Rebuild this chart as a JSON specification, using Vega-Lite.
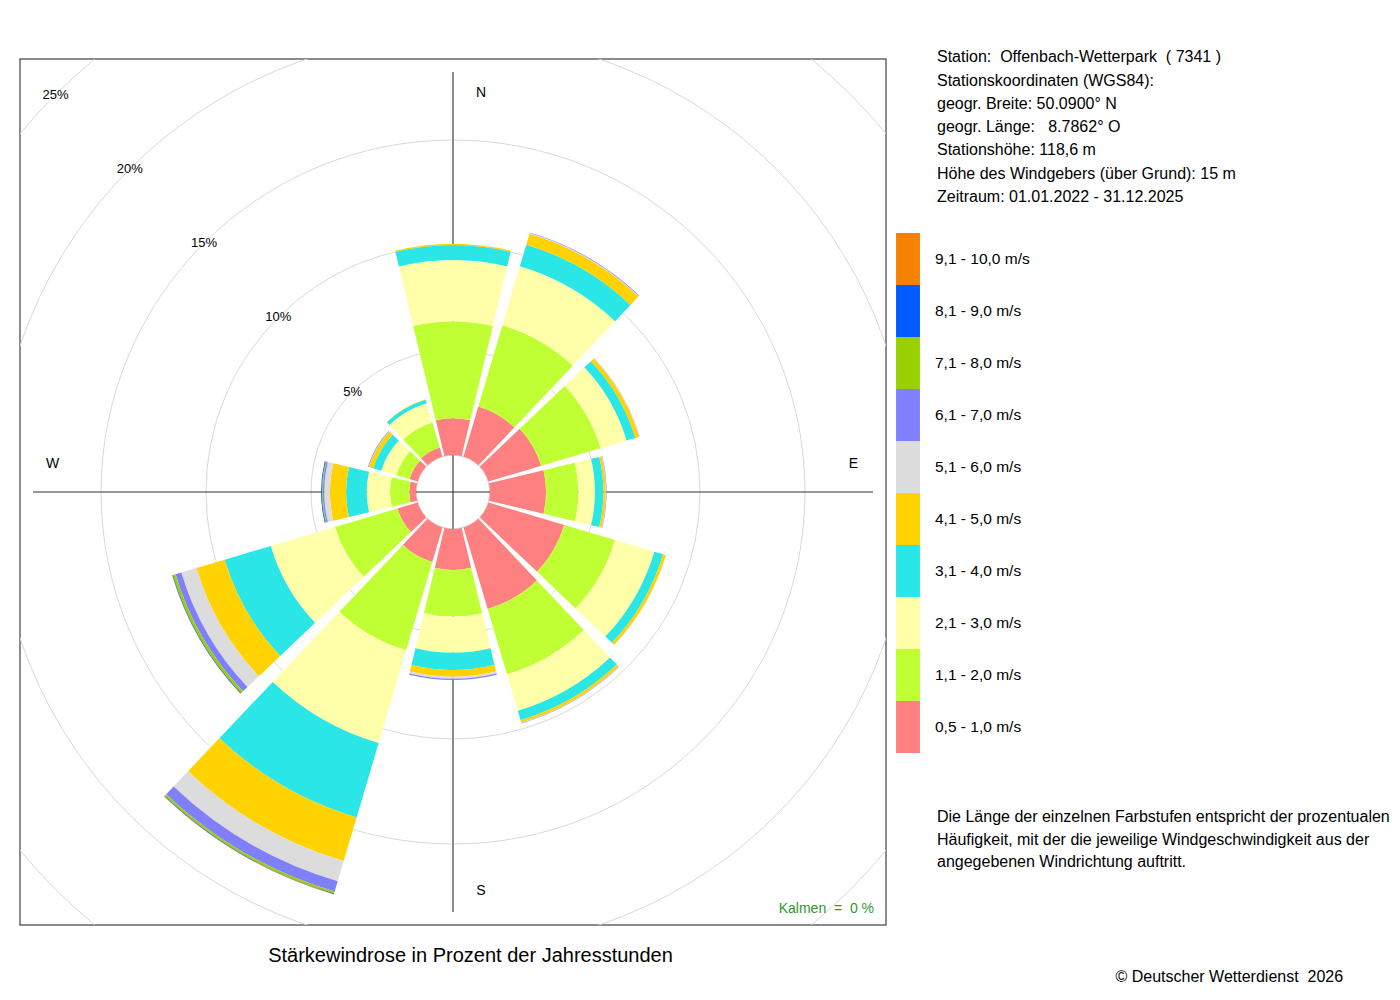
{
  "$schema": "https://vega.github.io/schema/vega-lite/v6.json",
  "width": 866,
  "height": 866,
  "autosize": {"type": "none"},
  "padding": {"left": 20, "top": 59, "right": 514, "bottom": 75},
  "background": "white",
  "config": {
    "font": "Liberation Sans",
    "view": {"stroke": "#666666", "strokeWidth": 1.5}
  },
  "title": {
    "text": [
      "Station:\u00a0 Offenbach-Wetterpark\u00a0 ( 7341 )",
      "Stationskoordinaten (WGS84):",
      "geogr. Breite: 50.0900° N",
      "geogr. Länge:\u00a0 \u00a08.7862° O",
      "Stationshöhe: 118,6 m",
      "Höhe des Windgebers (über Grund): 15 m",
      "Zeitraum: 01.01.2022 - 31.12.2025"
    ],
    "subtitle": [
      "Die Länge der einzelnen Farbstufen entspricht der prozentualen",
      "Häufigkeit, mit der die jeweilige Windgeschwindigkeit aus der",
      "angegebenen Windrichtung auftritt."
    ],
    "orient": "top",
    "anchor": "start",
    "frame": "group",
    "align": "left",
    "baseline": "top",
    "dx": 917,
    "offset": -811.5,
    "font": "Liberation Sans",
    "fontSize": 16,
    "fontWeight": "normal",
    "color": "black",
    "lineHeight": 23.3,
    "subtitleFont": "Liberation Sans",
    "subtitleFontSize": 16,
    "subtitleColor": "black",
    "subtitleLineHeight": 22.7,
    "subtitlePadding": 604
  },
  "data": {"values": [{}]},
  "layer": [
    {
      "data": {"values": [{"ring": 5}, {"ring": 10}, {"ring": 15}, {"ring": 20}, {"ring": 25}]},
      "mark": {"type": "arc", "filled": false, "stroke": "#d9d9d9", "strokeWidth": 1, "theta": 0, "theta2": 6.2832, "clip": true},
      "encoding": {
        "radius": {"field": "ring", "type": "quantitative", "stack": null, "scale": {"type": "linear", "domain": [0, 25], "range": [37, 562], "zero": false, "nice": false}}
      }
    },
    {
      "mark": {"type": "rule", "color": "#8c8c8c", "strokeWidth": 2},
      "encoding": {
        "x": {
          "datum": 0, "type": "quantitative",
          "scale": {"domain": [-20.619, 20.619], "nice": false, "zero": false},
          "axis": {
            "title": "Stärkewindrose in Prozent der Jahresstunden",
            "labels": false, "ticks": false, "domain": false, "grid": false,
            "titleFont": "Liberation Sans", "titleFontSize": 20, "titleFontWeight": "normal", "titleColor": "black",
            "titleX": 450, "titleY": 36, "titleAlign": "center", "titleBaseline": "alphabetic"
          }
        },
        "y": {
          "datum": -20, "type": "quantitative",
          "scale": {"domain": [-20.619, 20.619], "nice": false, "zero": false},
          "axis": {
            "title": "© Deutscher Wetterdienst\u00a0 2026",
            "labels": false, "ticks": false, "domain": false, "grid": false,
            "titleFont": "Liberation Sans", "titleFontSize": 16, "titleFontWeight": "normal", "titleColor": "black",
            "titleAngle": 0, "titleX": 1095, "titleY": 922, "titleAlign": "left", "titleBaseline": "alphabetic"
          }
        },
        "y2": {"datum": 20}
      }
    },
    {
      "mark": {"type": "rule", "color": "#333333", "strokeWidth": 1.2},
      "encoding": {
        "y": {"datum": 0, "type": "quantitative"},
        "x": {"datum": -20, "type": "quantitative"},
        "x2": {"datum": 20}
      }
    },
    {
      "data": {
        "values": [
          {"dir": 0, "speed": "0,5 - 1,0 m/s", "pct": 1.75},
          {"dir": 0, "speed": "1,1 - 2,0 m/s", "pct": 4.62},
          {"dir": 0, "speed": "2,1 - 3,0 m/s", "pct": 2.91},
          {"dir": 0, "speed": "3,1 - 4,0 m/s", "pct": 0.72},
          {"dir": 0, "speed": "4,1 - 5,0 m/s", "pct": 0.05},
          {"dir": 30, "speed": "0,5 - 1,0 m/s", "pct": 2.48},
          {"dir": 30, "speed": "1,1 - 2,0 m/s", "pct": 4.04},
          {"dir": 30, "speed": "2,1 - 3,0 m/s", "pct": 2.93},
          {"dir": 30, "speed": "3,1 - 4,0 m/s", "pct": 1.07},
          {"dir": 30, "speed": "4,1 - 5,0 m/s", "pct": 0.55},
          {"dir": 30, "speed": "5,1 - 6,0 m/s", "pct": 0.03},
          {"dir": 30, "speed": "6,1 - 7,0 m/s", "pct": 0.03},
          {"dir": 60, "speed": "0,5 - 1,0 m/s", "pct": 2.62},
          {"dir": 60, "speed": "1,1 - 2,0 m/s", "pct": 2.95},
          {"dir": 60, "speed": "2,1 - 3,0 m/s", "pct": 1.29},
          {"dir": 60, "speed": "3,1 - 4,0 m/s", "pct": 0.43},
          {"dir": 60, "speed": "4,1 - 5,0 m/s", "pct": 0.19},
          {"dir": 60, "speed": "5,1 - 6,0 m/s", "pct": 0.02},
          {"dir": 60, "speed": "6,1 - 7,0 m/s", "pct": 0.01},
          {"dir": 90, "speed": "0,5 - 1,0 m/s", "pct": 2.67},
          {"dir": 90, "speed": "1,1 - 2,0 m/s", "pct": 1.54},
          {"dir": 90, "speed": "2,1 - 3,0 m/s", "pct": 0.79},
          {"dir": 90, "speed": "3,1 - 4,0 m/s", "pct": 0.40},
          {"dir": 90, "speed": "4,1 - 5,0 m/s", "pct": 0.11},
          {"dir": 90, "speed": "5,1 - 6,0 m/s", "pct": 0.02},
          {"dir": 90, "speed": "6,1 - 7,0 m/s", "pct": 0.02},
          {"dir": 120, "speed": "0,5 - 1,0 m/s", "pct": 3.76},
          {"dir": 120, "speed": "1,1 - 2,0 m/s", "pct": 2.53},
          {"dir": 120, "speed": "2,1 - 3,0 m/s", "pct": 1.95},
          {"dir": 120, "speed": "3,1 - 4,0 m/s", "pct": 0.43},
          {"dir": 120, "speed": "4,1 - 5,0 m/s", "pct": 0.14},
          {"dir": 120, "speed": "5,1 - 6,0 m/s", "pct": 0.02},
          {"dir": 150, "speed": "0,5 - 1,0 m/s", "pct": 4.05},
          {"dir": 150, "speed": "1,1 - 2,0 m/s", "pct": 3.24},
          {"dir": 150, "speed": "2,1 - 3,0 m/s", "pct": 1.81},
          {"dir": 150, "speed": "3,1 - 4,0 m/s", "pct": 0.47},
          {"dir": 150, "speed": "4,1 - 5,0 m/s", "pct": 0.12},
          {"dir": 150, "speed": "5,1 - 6,0 m/s", "pct": 0.02},
          {"dir": 150, "speed": "6,1 - 7,0 m/s", "pct": 0.02},
          {"dir": 180, "speed": "0,5 - 1,0 m/s", "pct": 1.95},
          {"dir": 180, "speed": "1,1 - 2,0 m/s", "pct": 2.22},
          {"dir": 180, "speed": "2,1 - 3,0 m/s", "pct": 1.72},
          {"dir": 180, "speed": "3,1 - 4,0 m/s", "pct": 0.82},
          {"dir": 180, "speed": "4,1 - 5,0 m/s", "pct": 0.32},
          {"dir": 180, "speed": "5,1 - 6,0 m/s", "pct": 0.10},
          {"dir": 180, "speed": "6,1 - 7,0 m/s", "pct": 0.06},
          {"dir": 210, "speed": "0,5 - 1,0 m/s", "pct": 1.71},
          {"dir": 210, "speed": "1,1 - 2,0 m/s", "pct": 4.39},
          {"dir": 210, "speed": "2,1 - 3,0 m/s", "pct": 4.61},
          {"dir": 210, "speed": "3,1 - 4,0 m/s", "pct": 3.69},
          {"dir": 210, "speed": "4,1 - 5,0 m/s", "pct": 2.17},
          {"dir": 210, "speed": "5,1 - 6,0 m/s", "pct": 1.00},
          {"dir": 210, "speed": "6,1 - 7,0 m/s", "pct": 0.51},
          {"dir": 210, "speed": "7,1 - 8,0 m/s", "pct": 0.10},
          {"dir": 210, "speed": "8,1 - 9,0 m/s", "pct": 0.03},
          {"dir": 210, "speed": "9,1 - 10,0 m/s", "pct": 0.02},
          {"dir": 240, "speed": "0,5 - 1,0 m/s", "pct": 1.00},
          {"dir": 240, "speed": "1,1 - 2,0 m/s", "pct": 3.10},
          {"dir": 240, "speed": "2,1 - 3,0 m/s", "pct": 3.19},
          {"dir": 240, "speed": "3,1 - 4,0 m/s", "pct": 2.29},
          {"dir": 240, "speed": "4,1 - 5,0 m/s", "pct": 1.40},
          {"dir": 240, "speed": "5,1 - 6,0 m/s", "pct": 0.75},
          {"dir": 240, "speed": "6,1 - 7,0 m/s", "pct": 0.29},
          {"dir": 240, "speed": "7,1 - 8,0 m/s", "pct": 0.13},
          {"dir": 240, "speed": "8,1 - 9,0 m/s", "pct": 0.03},
          {"dir": 240, "speed": "9,1 - 10,0 m/s", "pct": 0.01},
          {"dir": 270, "speed": "0,5 - 1,0 m/s", "pct": 0.32},
          {"dir": 270, "speed": "1,1 - 2,0 m/s", "pct": 0.92},
          {"dir": 270, "speed": "2,1 - 3,0 m/s", "pct": 1.11},
          {"dir": 270, "speed": "3,1 - 4,0 m/s", "pct": 0.98},
          {"dir": 270, "speed": "4,1 - 5,0 m/s", "pct": 0.77},
          {"dir": 270, "speed": "5,1 - 6,0 m/s", "pct": 0.27},
          {"dir": 270, "speed": "6,1 - 7,0 m/s", "pct": 0.07},
          {"dir": 270, "speed": "7,1 - 8,0 m/s", "pct": 0.04},
          {"dir": 270, "speed": "8,1 - 9,0 m/s", "pct": 0.04},
          {"dir": 300, "speed": "0,5 - 1,0 m/s", "pct": 0.40},
          {"dir": 300, "speed": "1,1 - 2,0 m/s", "pct": 0.66},
          {"dir": 300, "speed": "2,1 - 3,0 m/s", "pct": 0.74},
          {"dir": 300, "speed": "3,1 - 4,0 m/s", "pct": 0.40},
          {"dir": 300, "speed": "4,1 - 5,0 m/s", "pct": 0.21},
          {"dir": 300, "speed": "5,1 - 6,0 m/s", "pct": 0.02},
          {"dir": 300, "speed": "6,1 - 7,0 m/s", "pct": 0.03},
          {"dir": 330, "speed": "0,5 - 1,0 m/s", "pct": 0.45},
          {"dir": 330, "speed": "1,1 - 2,0 m/s", "pct": 1.24},
          {"dir": 330, "speed": "2,1 - 3,0 m/s", "pct": 0.95},
          {"dir": 330, "speed": "3,1 - 4,0 m/s", "pct": 0.18},
          {"dir": 330, "speed": "4,1 - 5,0 m/s", "pct": 0.02}
        ]
      },
      "transform": [
        {"stack": "pct", "groupby": ["dir"], "sort": [{"field": "speed", "order": "ascending"}], "as": ["p0", "p1"]}
      ],
      "mark": {"type": "arc", "thetaOffset": -0.2356, "theta2Offset": 0.2356, "strokeWidth": 0},
      "encoding": {
        "theta": {"field": "dir", "type": "quantitative", "stack": null, "scale": {"domain": [0, 360], "range": [0, 6.283185307179586], "zero": false, "nice": false}},
        "theta2": {"field": "dir"},
        "radius": {"field": "p1", "type": "quantitative", "stack": null, "scale": {"type": "linear", "domain": [0, 25], "range": [37, 562], "zero": false, "nice": false}},
        "radius2": {"field": "p0"},
        "color": {
          "field": "speed", "type": "nominal",
          "scale": {
            "domain": ["9,1 - 10,0 m/s", "8,1 - 9,0 m/s", "7,1 - 8,0 m/s", "6,1 - 7,0 m/s", "5,1 - 6,0 m/s", "4,1 - 5,0 m/s", "3,1 - 4,0 m/s", "2,1 - 3,0 m/s", "1,1 - 2,0 m/s", "0,5 - 1,0 m/s"],
            "range": ["#F58200", "#005CFF", "#99D100", "#8080FF", "#DCDCDC", "#FFD200", "#2AE6E6", "#FFFFAA", "#C0FF33", "#FF8080"]
          },
          "legend": {
            "orient": "none", "legendX": 862, "legendY": 174,
            "title": null, "padding": 0, "rowPadding": 0,
            "symbolType": "M-0.46,-1H0.46V1H-0.46Z", "symbolSize": 2704, "symbolStrokeWidth": 0, "symbolOpacity": 1,
            "labelFont": "Liberation Sans", "labelFontSize": 15.5, "labelColor": "black", "labelOffset": 1, "labelLimit": 300
          }
        }
      }
    },
    {
      "data": {"values": [{"ring": 5, "label": "5%"}, {"ring": 10, "label": "10%"}, {"ring": 15, "label": "15%"}, {"ring": 20, "label": "20%"}, {"ring": 25, "label": "25%"}]},
      "mark": {"type": "text", "fontSize": 13, "color": "black", "align": "center", "baseline": "middle"},
      "encoding": {
        "theta": {"datum": 315, "type": "quantitative"},
        "radius": {"field": "ring", "type": "quantitative", "stack": null},
        "text": {"field": "label"}
      }
    },
    {
      "data": {"values": [{"label": "N", "dir": 0}, {"label": "S", "dir": 180}]},
      "mark": {"type": "text", "fontSize": 14, "color": "black", "align": "center", "baseline": "middle", "dx": 28},
      "encoding": {
        "theta": {"field": "dir", "type": "quantitative", "stack": null},
        "radius": {"datum": 17.25, "type": "quantitative"},
        "text": {"field": "label"}
      }
    },
    {
      "data": {"values": [{"label": "E", "dir": 90}, {"label": "W", "dir": 270}]},
      "mark": {"type": "text", "fontSize": 14, "color": "black", "align": "center", "baseline": "middle", "dy": -28},
      "encoding": {
        "theta": {"field": "dir", "type": "quantitative", "stack": null},
        "radius": {"datum": 17.3, "type": "quantitative"},
        "text": {"field": "label"}
      }
    },
    {
      "data": {"values": [{"label": "Kalmen\u00a0 =\u00a0 0 %"}]},
      "mark": {"type": "text", "fontSize": 14, "color": "#2e9a2e", "align": "right", "baseline": "alphabetic"},
      "encoding": {
        "x": {"datum": 20.05, "type": "quantitative"},
        "y": {"datum": -20.05, "type": "quantitative"},
        "text": {"field": "label"}
      }
    }
  ]
}
